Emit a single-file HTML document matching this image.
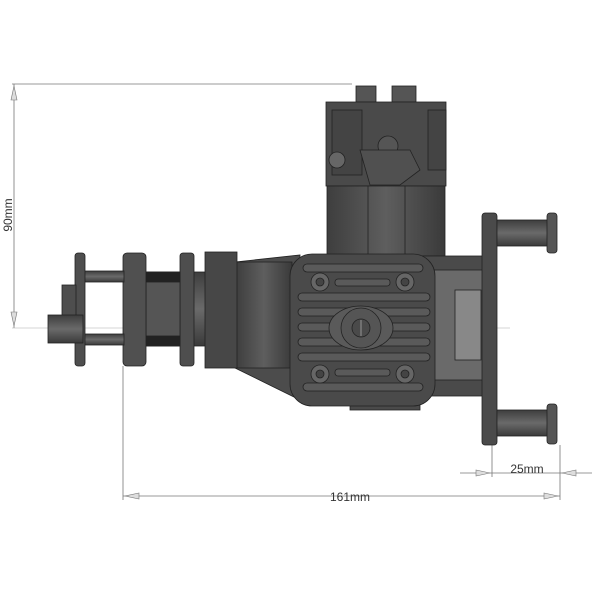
<!DOCTYPE html>
<html><head><style>
html,body{margin:0;padding:0;background:#fff;}
svg{display:block;}
text{font-family:"Liberation Sans",sans-serif;fill:#333;}
</style></head><body>
<svg width="600" height="600" viewBox="0 0 600 600" xmlns="http://www.w3.org/2000/svg">
<defs>
<linearGradient id="v" x1="0" y1="0" x2="0" y2="1">
<stop offset="0" stop-color="#3e3e3e"/><stop offset="0.5" stop-color="#6a6a6a"/><stop offset="1" stop-color="#3a3a3a"/>
</linearGradient>
<linearGradient id="h" x1="0" y1="0" x2="1" y2="0">
<stop offset="0" stop-color="#3e3e3e"/><stop offset="0.5" stop-color="#5e5e5e"/><stop offset="1" stop-color="#3a3a3a"/>
</linearGradient>
</defs>
<g stroke="#777" stroke-width="0.8" fill="none">
<line x1="12" y1="84" x2="352" y2="84"/>
<line x1="14" y1="84" x2="14" y2="328"/>
<line x1="12" y1="328" x2="510" y2="328" stroke="#aaa" stroke-width="0.6"/>
<line x1="123" y1="366" x2="123" y2="500"/>
<line x1="560" y1="445" x2="560" y2="500"/>
<line x1="123" y1="496" x2="560" y2="496"/>
<line x1="492" y1="445" x2="492" y2="477"/>
<line x1="460" y1="473" x2="592" y2="473"/>
</g>
<g fill="#ddd" stroke="#777" stroke-width="0.6">
<polygon points="14,86 11,100 17,100"/><polygon points="14,326 11,312 17,312"/>
<polygon points="125,496 139,493 139,499"/><polygon points="558,496 544,493 544,499"/>
<polygon points="490,473 476,470 476,476"/><polygon points="562,473 576,470 576,476"/>
</g>
<text x="12" y="215" font-size="12" transform="rotate(-90 12 215)" text-anchor="middle">90mm</text>
<text x="350" y="501" font-size="12" text-anchor="middle">161mm</text>
<text x="527" y="473" font-size="12" text-anchor="middle">25mm</text>

<g stroke="#222" stroke-width="0.8">
<rect x="356" y="86" width="20" height="16" fill="#555"/>
<rect x="392" y="86" width="24" height="16" fill="#555"/>
<rect x="326" y="102" width="120" height="84" fill="#4a4a4a"/>
<rect x="332" y="110" width="30" height="65" fill="#444"/>
<circle cx="388" cy="146" r="10" fill="#555"/>
<circle cx="337" cy="160" r="8" fill="#666"/>
<path d="M360 150 L410 150 L420 170 L400 185 L370 185 Z" fill="#505050"/>
<rect x="428" y="110" width="18" height="60" fill="#444"/>
<rect x="327" y="186" width="118" height="70" fill="url(#h)"/>
<line x1="368" y1="186" x2="368" y2="256"/><line x1="405" y1="186" x2="405" y2="256"/>
<rect x="420" y="256" width="65" height="140" fill="#4a4a4a"/>
<rect x="432" y="270" width="52" height="110" fill="#6a6a6a"/>
<rect x="455" y="290" width="26" height="70" fill="#888"/>
<rect x="350" y="396" width="70" height="14" fill="#4a4a4a"/>
<rect x="482" y="213" width="15" height="232" rx="3" fill="#4a4a4a"/>
<rect x="497" y="220" width="52" height="26" fill="url(#v)"/>
<rect x="547" y="213" width="10" height="40" rx="3" fill="#555"/>
<rect x="497" y="410" width="52" height="26" fill="url(#v)"/>
<rect x="547" y="404" width="10" height="40" rx="3" fill="#555"/>
<polygon points="235,262 300,255 300,400 235,368" fill="#4c4c4c"/>
<rect x="236" y="262" width="56" height="106" fill="url(#h)"/>
<rect x="193" y="272" width="14" height="74" fill="url(#v)"/>
<rect x="205" y="252" width="32" height="116" fill="#474747"/>
<rect x="180" y="253" width="14" height="113" rx="3" fill="#4e4e4e"/>
<rect x="146" y="272" width="34" height="74" fill="#555"/>
<rect x="146" y="272" width="34" height="10" fill="#222"/>
<rect x="146" y="336" width="34" height="10" fill="#222"/>
<rect x="123" y="253" width="23" height="113" rx="4" fill="#505050"/>
<rect x="82" y="271" width="42" height="11" fill="url(#v)"/>
<rect x="82" y="334" width="42" height="11" fill="url(#v)"/>
<rect x="75" y="253" width="10" height="113" rx="3" fill="#4e4e4e"/>
<rect x="62" y="285" width="14" height="52" fill="#4e4e4e"/>
<rect x="48" y="315" width="35" height="28" fill="url(#v)"/>
<rect x="290" y="254" width="145" height="152" rx="22" fill="#4a4a4a"/>
<g fill="#5a5a5a">
<rect x="303" y="264" width="120" height="8" rx="4"/>
<rect x="298" y="293" width="132" height="8" rx="4"/>
<rect x="298" y="308" width="132" height="8" rx="4"/>
<rect x="298" y="323" width="132" height="8" rx="4"/>
<rect x="298" y="338" width="132" height="8" rx="4"/>
<rect x="298" y="353" width="132" height="8" rx="4"/>
<rect x="303" y="383" width="120" height="8" rx="4"/>
<rect x="335" y="279" width="55" height="7" rx="3"/>
<rect x="335" y="369" width="55" height="7" rx="3"/>
</g>
<g fill="#666">
<circle cx="320" cy="282" r="9"/><circle cx="405" cy="282" r="9"/>
<circle cx="320" cy="374" r="9"/><circle cx="405" cy="374" r="9"/>
</g>
<g fill="#444">
<circle cx="320" cy="282" r="4"/><circle cx="405" cy="282" r="4"/>
<circle cx="320" cy="374" r="4"/><circle cx="405" cy="374" r="4"/>
</g>
<ellipse cx="361" cy="328" rx="32" ry="22" fill="#5a5a5a"/>
<circle cx="361" cy="328" r="20" fill="#555"/>
<circle cx="361" cy="328" r="9" fill="#4a4a4a"/>
<line x1="361" y1="320" x2="361" y2="336" stroke="#aaa"/>
</g>
</svg>
</body></html>
